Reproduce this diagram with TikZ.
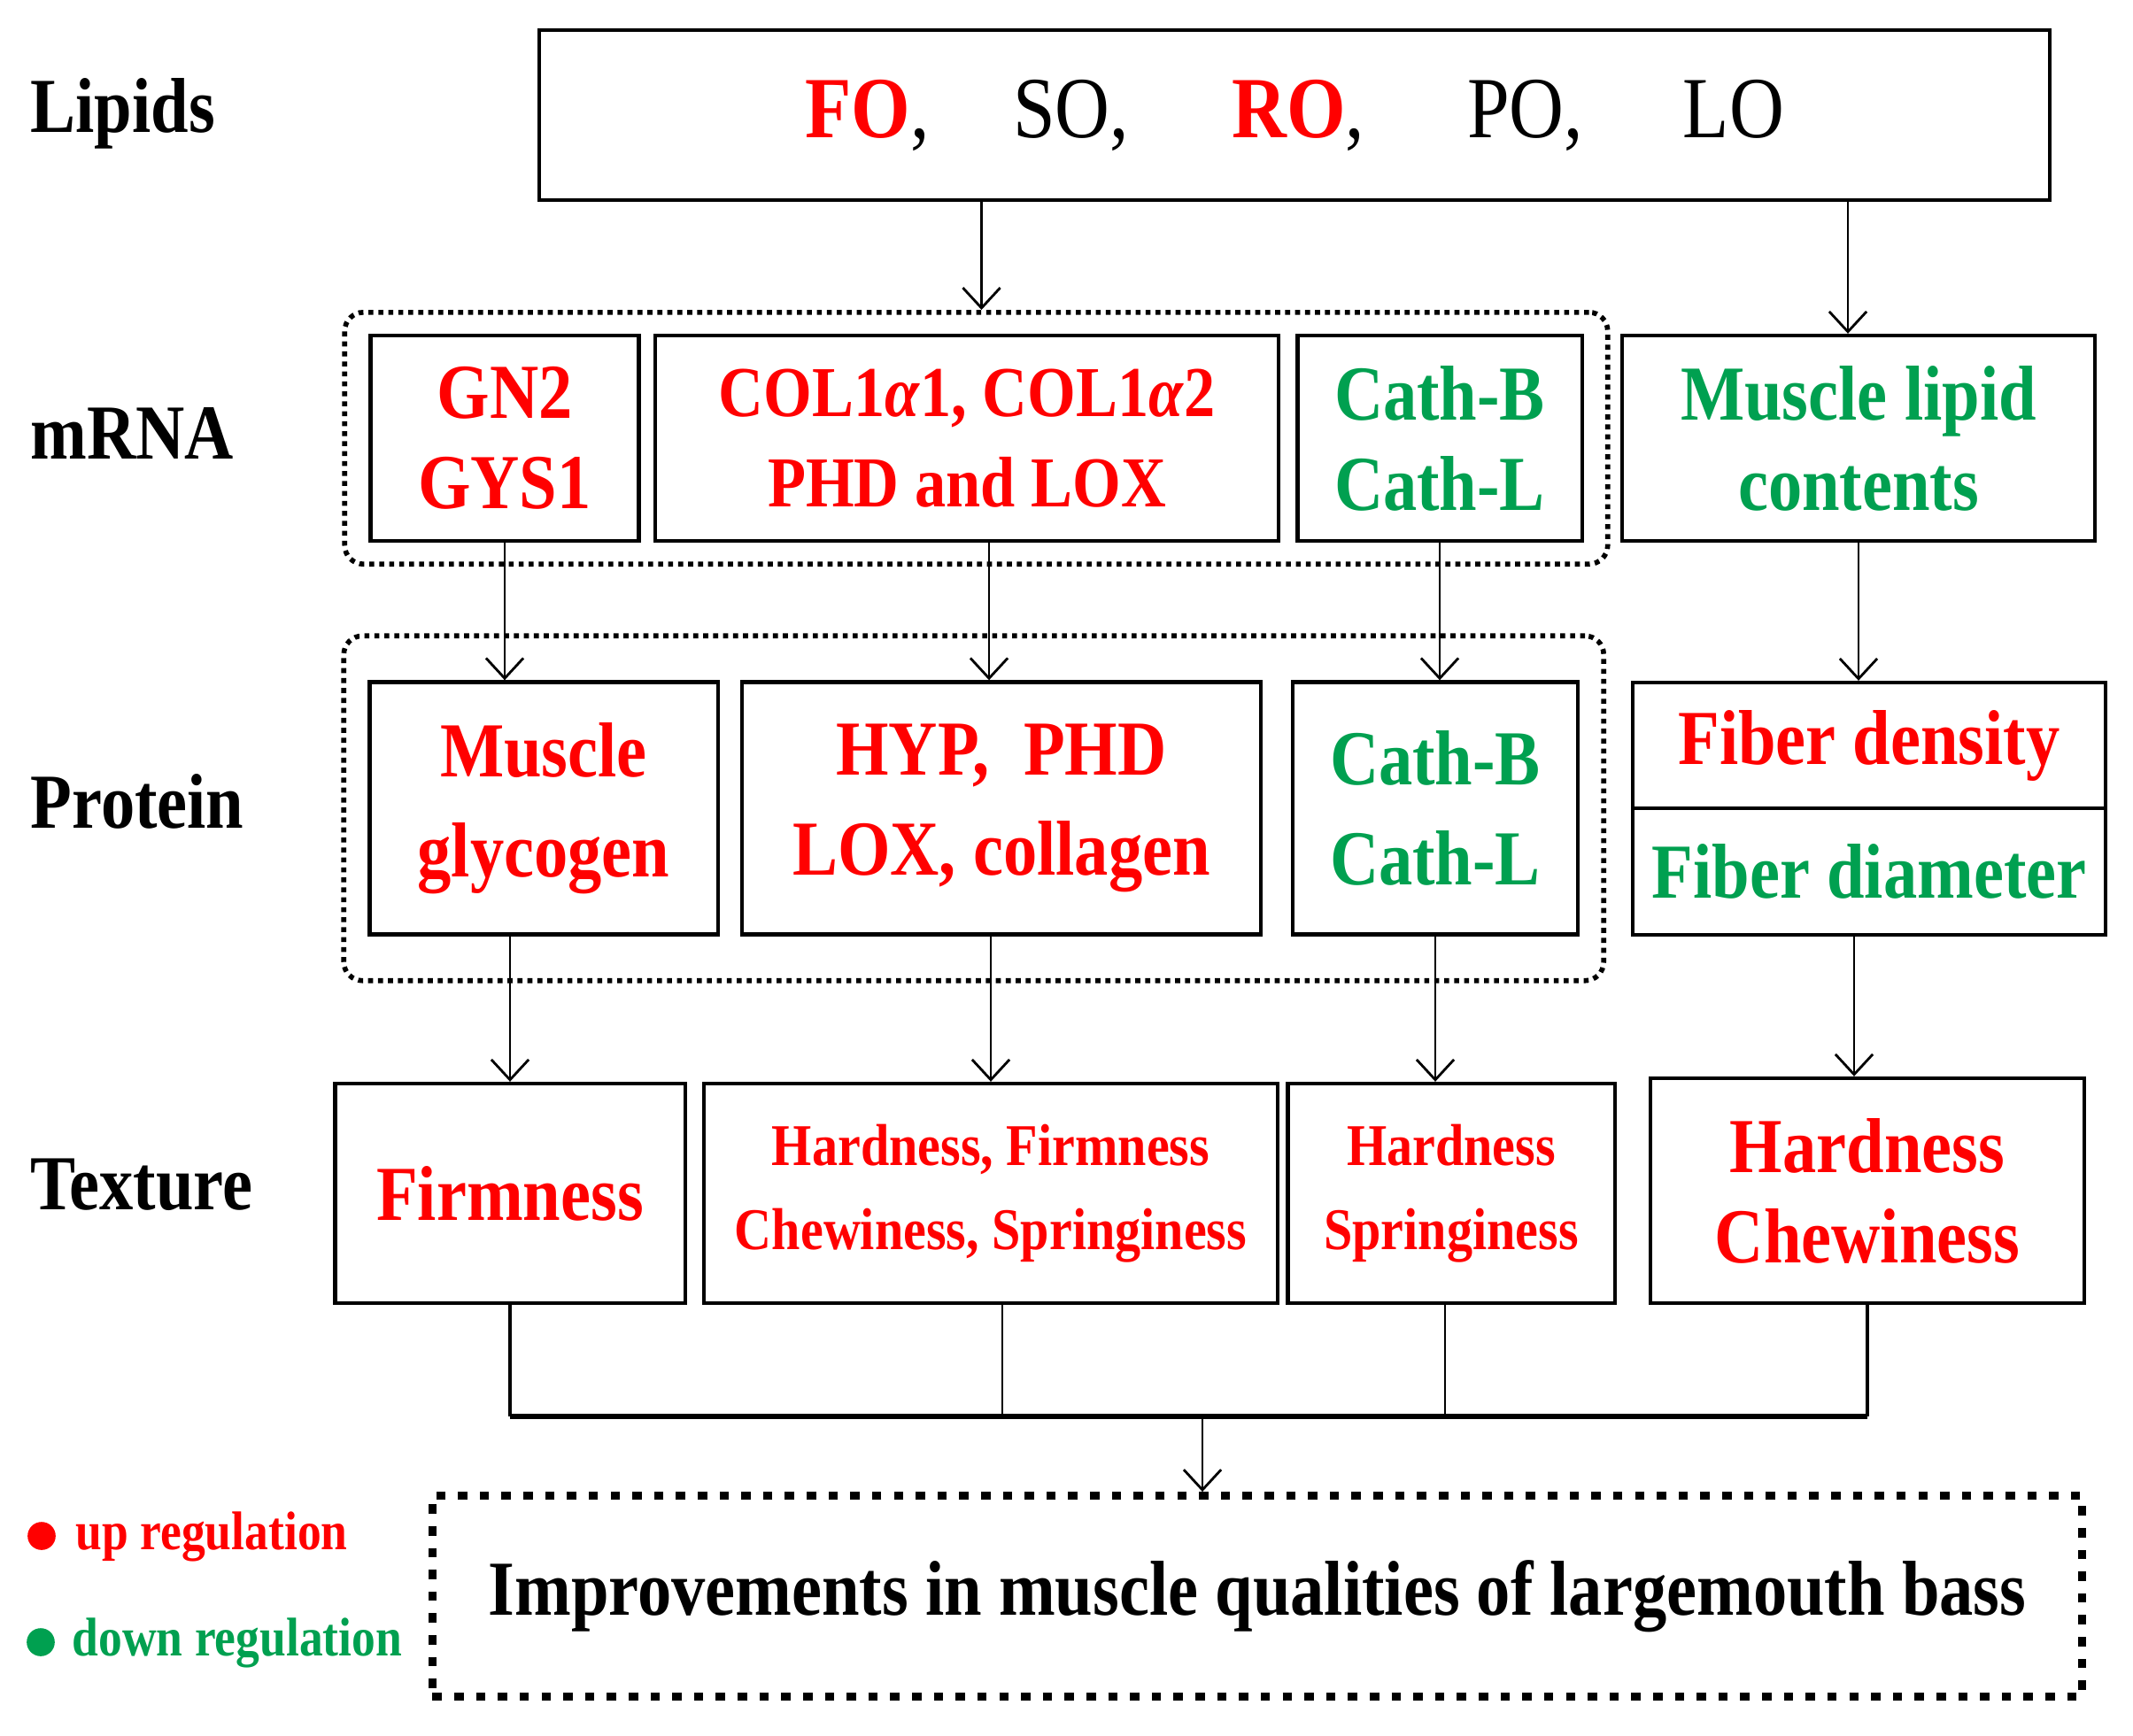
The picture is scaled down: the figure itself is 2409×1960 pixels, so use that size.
\documentclass[tikz,border=0pt]{standalone}
\usepackage{fontspec}
\setmainfont{Liberation Serif}[FakeStretch=0.87]
\usetikzlibrary{arrows.meta}
\usetikzlibrary{fit}
\definecolor{upred}{RGB}{255,0,0}
\definecolor{downgreen}{RGB}{0,160,80}
\newcommand{\bigtext}{\bfseries\fontsize{25}{29}\selectfont}
\newcommand{\smalltext}{\bfseries\fontsize{19}{27}\selectfont}

\begin{document}
\begin{tikzpicture}[x=0.01cm, y=-0.01cm,
    box/.style={draw, line width=1.2pt, align=center, inner sep=0pt, font=\bigtext},
    rowlabel/.style={anchor=base west, inner sep=0pt, font=\bigtext},
    group/.style={draw, line width=1.6pt, dash pattern=on 1.6pt off 1.6pt, rounded corners=6pt, inner xsep=0.27cm},
    link/.style={line width=0.8pt, -{Straight Barb[length=6.5pt, width=12pt]}},
    legend/.style={anchor=base west, inner sep=0pt, font=\bfseries\fontsize{17.5}{20}\selectfont}]

    \useasboundingbox (0,0) rectangle (2409,1960);

    \node[rowlabel] (lipidslab) at (34,149) {Lipids};
    \node[rowlabel] (mrnalab) at (34,518) {mRNA};
    \node[rowlabel] (protlab) at (34,935) {Protein};
    \node[rowlabel] (texlab) at (34,1366) {Texture};

    \node[box, minimum width=17.05cm, minimum height=1.92cm, font=\fontsize{28}{32}\selectfont] (lip) at (1462,130)
        {\textcolor{upred}{\bfseries FO},\hspace{27pt}SO,\hspace{33pt}\textcolor{upred}{\bfseries RO},\hspace{33pt}PO,\hspace{32pt}LO};

    \node[box, text=upred, minimum width=3.03cm, minimum height=2.32cm] (gn) at (570,495) {GN2\\GYS1};
    \node[box, text=upred, minimum width=7.03cm, minimum height=2.32cm, font=\bfseries\fontsize{23}{29}\selectfont] (col) at (1092,495)
        {COL1\textit{α}1, COL1\textit{α}2\\PHD and LOX};
    \node[box, text=downgreen, minimum width=3.21cm, minimum height=2.32cm] (cathm) at (1626,495) {Cath-B\\Cath-L};
    \node[box, text=downgreen, minimum width=5.33cm, minimum height=2.32cm] (lipid) at (2099,495) {Muscle lipid\\contents};

    \node[box, text=upred, minimum width=3.93cm, minimum height=2.85cm, font=\bfseries\fontsize{25}{32}\selectfont] (glyc) at (614,913) {Muscle\\glycogen};
    \node[box, text=upred, minimum width=5.85cm, minimum height=2.85cm, font=\bfseries\fontsize{25}{32}\selectfont] (hyp) at (1131,913) {HYP,\ \ PHD\\LOX, collagen};
    \node[box, text=downgreen, minimum width=3.22cm, minimum height=2.85cm, font=\bfseries\fontsize{25}{32}\selectfont] (cathp) at (1621,913) {Cath-B\\Cath-L};
    \node[box, text=upred, minimum width=5.33cm, minimum height=1.42cm] (fibd) at (2111,842) {Fiber density};
    \node[box, text=downgreen, minimum width=5.33cm, minimum height=1.43cm] (fibm) at (2111,984.5) {Fiber diameter};

    \node[group, fit=(gn)(cathm), inner ysep=0.24cm] (mgroup) {};
    \node[group, fit=(glyc)(cathp), inner ysep=0.5cm] (pgroup) {};

    \node[box, text=upred, minimum width=3.95cm, minimum height=2.48cm] (firm) at (576,1348) {Firmness};
    \node[box, text=upred, minimum width=6.47cm, minimum height=2.48cm, font=\smalltext] (hff) at (1119,1348) {Hardness, Firmness\\Chewiness, Springiness};
    \node[box, text=upred, minimum width=3.69cm, minimum height=2.48cm, font=\smalltext] (hs) at (1639,1348) {Hardness\\Springiness};
    \node[box, text=upred, minimum width=4.89cm, minimum height=2.54cm] (hc) at (2109,1345) {Hardness\\Chewiness};

    \node[draw, line width=2.5pt, dash pattern=on 3pt off 4pt, inner sep=0pt, minimum width=18.62cm, minimum height=2.27cm, font=\bigtext] (final) at (1420,1803)
        {Improvements in muscle qualities of largemouth bass};

    \node[circle, fill=upred, minimum size=9pt, inner sep=0pt] (updot) at (47,1735) {};
    \node[legend, text=upred] (uplab) at (85,1750) {up regulation};
    \node[circle, fill=downgreen, minimum size=9pt, inner sep=0pt] (downdot) at (46,1855) {};
    \node[legend, text=downgreen] (downlab) at (81,1870) {down regulation};

    \draw[link] ([xshift=0.06cm]lip.south -| mgroup.north) -- ([xshift=0.06cm]mgroup.north);
    \draw[link] ([xshift=-0.12cm]lip.south -| lipid.north) -- ([xshift=-0.12cm]lipid.north);
    \foreach \a/\b in {gn/glyc, cathm/cathp, lipid/fibd}
        \draw[link] (\a.south) -- (\a.south |- \b.north);
    \draw[link] ([xshift=0.25cm]col.south) -- ([xshift=0.25cm]col.south |- hyp.north);

    \draw[link] (firm.north |- glyc.south) -- (firm.north);
    \draw[link] (hff.north |- hyp.south) -- (hff.north);
    \draw[link] (cathp.south) -- (cathp.south |- hs.north);
    \draw[link] ([xshift=-0.17cm]fibm.south) -- ([xshift=-0.17cm]fibm.south |- hc.north);

    \coordinate (join) at (1358,1600);
    \draw[line width=1.2pt] (firm.south) -- (firm.south |- join);
    \draw[line width=0.6pt] ([xshift=0.13cm]hff.south) -- ([xshift=0.13cm]hff.south |- join);
    \draw[line width=0.6pt] ([xshift=-0.07cm]hs.south) -- ([xshift=-0.07cm]hs.south |- join);
    \draw[line width=1.2pt] (hc.south) -- (hc.south |- join);
    \draw[line width=1.7pt] (firm.south |- join) -- (hc.south |- join);
    \draw[link] (join) -- (join |- final.north);

\end{tikzpicture}
\end{document}
